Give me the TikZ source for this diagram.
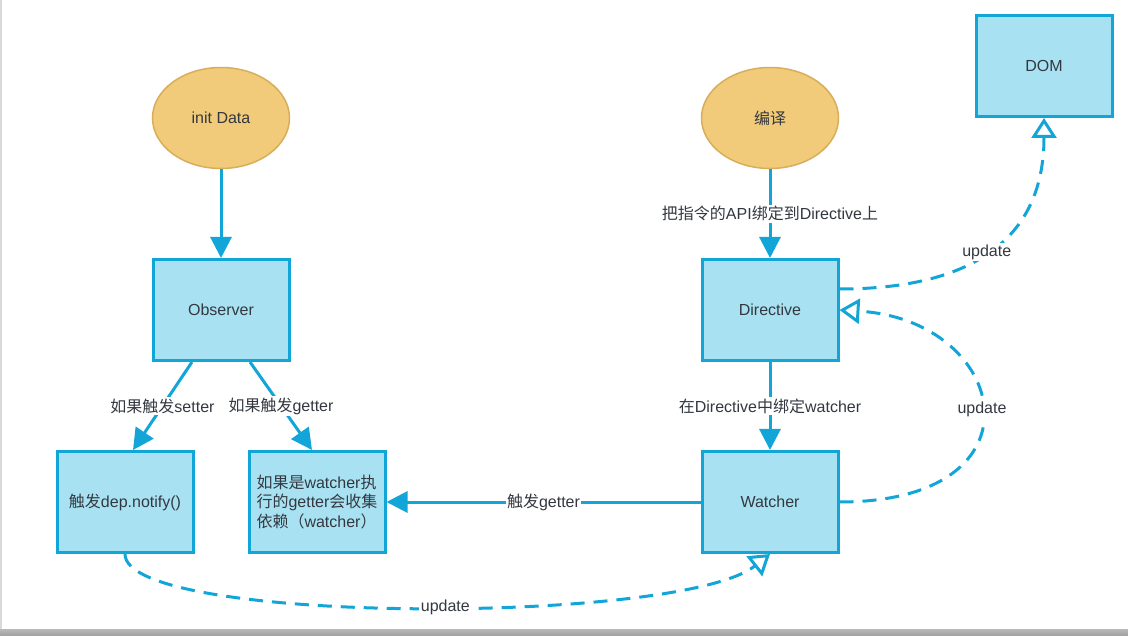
\documentclass[tikz,border=0pt]{standalone}
\usepackage{fontspec}
\setmainfont{Liberation Sans}
\newfontfamily\cjk{Noto Sans CJK SC}
\newcommand{\zh}[1]{{\cjk #1}}
\usetikzlibrary{shapes.geometric}
\usetikzlibrary{arrows.meta}

\definecolor{boxblue}{HTML}{A8E2F2}
\definecolor{lineblue}{HTML}{12A6D8}
\definecolor{eggfill}{HTML}{F1CB7A}
\definecolor{eggline}{HTML}{D8AE5A}
\definecolor{txt}{HTML}{333840}

\tikzset{
  block/.style={draw=lineblue, fill=boxblue, line width=3pt, minimum width=136pt, minimum height=101pt, inner sep=0pt, text=txt},
  egg/.style={ellipse, draw=eggline, fill=eggfill, line width=1.5pt, minimum width=137pt, minimum height=101pt, inner sep=0pt, text=txt},
  lbl/.style={fill=white, inner sep=1.5pt, text=txt},
  solidarrow/.style={lineblue, line width=3pt, -{Triangle[length=21pt,width=21pt]}},
  dashline/.style={draw=lineblue, line width=3pt, dash pattern=on 14pt off 9pt, -{Triangle[fill=white,length=20pt,width=25pt]}}
}

\begin{document}
\begin{tikzpicture}[x=1pt,y=-1pt,font=\fontsize{16}{19.5}\selectfont]
  \useasboundingbox (0,0) rectangle (1128,636);
  \fill[white] (0,0) rectangle (1128,636);
  \draw[gray!30, line width=2pt] (1,0) -- (1,629);
  \shade[top color=gray!55, bottom color=gray!75] (0,629) rectangle (1128,636);

  \node[egg] (initdata) at (221,118) {init Data};
  \node[block] (observer) at (221,310) {Observer};
  \node[block] (setter) at (125,502) {\zh{触发}dep.notify()};
  \node[block, align=left] (getter) at (317,502) {\zh{如果是}watcher\zh{执}\\\zh{行的}getter\zh{会收集}\\\zh{依赖（}watcher\zh{）}};
  \node[egg] (compile) at (770,118) {\zh{编译}};
  \node[block] (directive) at (770,310) {Directive};
  \node[block] (watcher) at (770,502) {Watcher};
  \node[block] (dom) at (1044,66) {DOM};

  \path[solidarrow]
    (initdata) edge (observer)
    ([xshift=-29pt]observer.south) edge node[lbl] {\zh{如果触发}setter} ([xshift=8pt]setter.north)
    ([xshift=29pt]observer.south) edge node[lbl] {\zh{如果触发}getter} ([xshift=-5pt]getter.north)
    (compile) edge node[lbl] {\zh{把指令的}API\zh{绑定到}Directive\zh{上}} (directive)
    (directive) edge node[lbl] {\zh{在}Directive\zh{中绑定}watcher} (watcher)
    (watcher) edge node[lbl] {\zh{触发}getter} (getter);

  \draw[dashline] (setter.south) .. controls +(0,71) and +(-90,71) .. node[lbl, pos=0.535] {update} (watcher.south);
  \draw[dashline] (watcher.east) .. controls +(210,0) and +(170,10) .. node[lbl] {update} (directive.east);
  \draw[dashline] ([yshift=21pt]directive.east) .. controls +(120,0) and +(0,130) .. node[lbl] {update} (dom.south);
\end{tikzpicture}
\end{document}
